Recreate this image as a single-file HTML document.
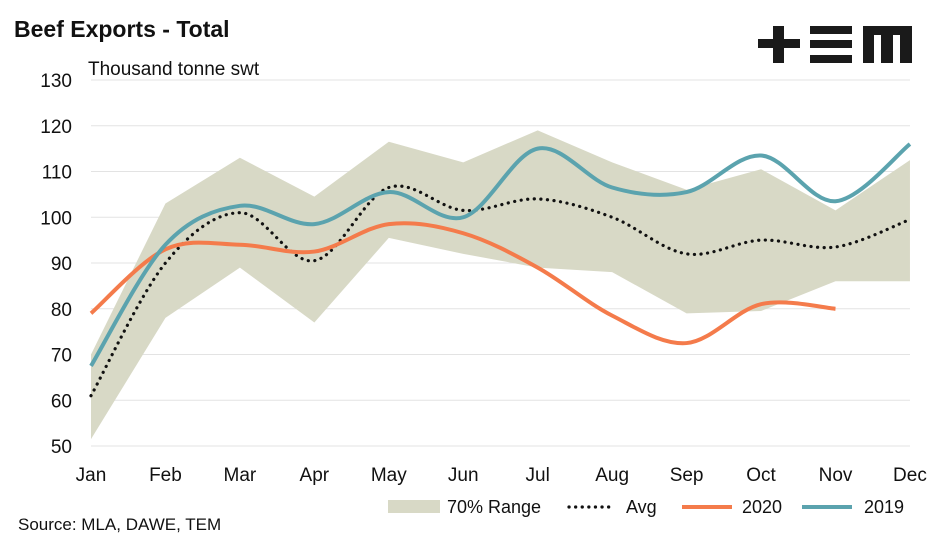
<!DOCTYPE html>
<html><head><meta charset="utf-8"><style>
body{margin:0;background:#fff;}
svg{display:block;font-family:"Liberation Sans",sans-serif;}
</style></head><body>
<svg id="s" width="945" height="539" xmlns="http://www.w3.org/2000/svg">
<text x="14" y="37" font-size="23" font-weight="bold" fill="#111">Beef Exports - Total</text>
<text x="88" y="75" font-size="19" fill="#111">Thousand tonne swt</text>
<g fill="#1a1a1a">
<rect x="758" y="39" width="42" height="9"/><rect x="773" y="26" width="11" height="37"/>
<rect x="810" y="26" width="42" height="8"/><rect x="810" y="40" width="42" height="8"/><rect x="810" y="55" width="42" height="8"/>
<rect x="863" y="26" width="49" height="9"/><rect x="863" y="26" width="11" height="37"/><rect x="881" y="26" width="12" height="37"/><rect x="900" y="26" width="12" height="37"/>
</g>
<g id="grid" stroke="#e3e3e3" stroke-width="1"></g>
<g id="yl" font-size="19" fill="#111" text-anchor="end"></g>
<g id="xl" font-size="19" fill="#111" text-anchor="middle"></g>
<path id="band" fill="#d8d9c6"/>
<path id="avg" fill="none" stroke="#111" stroke-width="3.2" stroke-dasharray="0.1 6.5" stroke-linecap="round"/>
<path id="l20" fill="none" stroke="#f47b4b" stroke-width="4"/>
<path id="l19" fill="none" stroke="#5ba3ae" stroke-width="4"/>
<rect x="388" y="500" width="52" height="13" fill="#d8d9c6"/>
<text x="447" y="513" font-size="18" fill="#111">70% Range</text>
<line x1="569" y1="507" x2="612" y2="507" stroke="#111" stroke-width="3.2" stroke-dasharray="0.1 6.5" stroke-linecap="round"/>
<text x="626" y="513" font-size="18" fill="#111">Avg</text>
<line x1="682" y1="507" x2="732" y2="507" stroke="#f47b4b" stroke-width="4"/>
<text x="742" y="513" font-size="18" fill="#111">2020</text>
<line x1="802" y1="507" x2="852" y2="507" stroke="#5ba3ae" stroke-width="4"/>
<text x="864" y="513" font-size="18" fill="#111">2019</text>
<text x="18" y="530" font-size="17" fill="#111">Source: MLA, DAWE, TEM</text>
</svg>
<script>
const X=i=>91+i*74.45, Y=v=>446-(v-50)*4.575;
const ns="http://www.w3.org/2000/svg";
function el(p,t,a,txt){const e=document.createElementNS(ns,t);for(const k in a)e.setAttribute(k,a[k]);if(txt)e.textContent=txt;document.getElementById(p).appendChild(e);}
for(let v=50;v<=130;v+=10){el("grid","line",{x1:91,x2:910,y1:Y(v),y2:Y(v)});el("yl","text",{x:72,y:Y(v)+7},String(v));}
"Jan Feb Mar Apr May Jun Jul Aug Sep Oct Nov Dec".split(" ").forEach((m,i)=>el("xl","text",{x:X(i),y:481},m));
function pts(a){return a.map((v,i)=>[X(i),Y(v)]);}
function smooth(p,move=true){let d=move?`M${p[0][0]},${p[0][1]}`:`L${p[0][0]},${p[0][1]}`;
for(let i=0;i<p.length-1;i++){const p0=p[i-1]||p[i],p1=p[i],p2=p[i+1],p3=p[i+2]||p2;
d+=`C${p1[0]+(p2[0]-p0[0])/6},${p1[1]+(p2[1]-p0[1])/6} ${p2[0]-(p3[0]-p1[0])/6},${p2[1]-(p3[1]-p1[1])/6} ${p2[0]},${p2[1]}`;}return d;}
function lin(p,move=true){return p.map((q,i)=>(i||!move?"L":"M")+q[0]+","+q[1]).join("");}
const up=[70,103,113,104.5,116.5,112,119,112,106,110.5,101.5,112.5];
const lo=[51.5,78,89,77,95.5,92,89,88,79,79.5,86,86];
document.getElementById("band").setAttribute("d",lin(pts(up))+lin(pts(lo).reverse(),false)+"Z");
document.getElementById("avg").setAttribute("d",smooth(pts([61,90,101,90.5,106.5,101.5,104,100,92,95,93.5,99.5])));
document.getElementById("l20").setAttribute("d",smooth(pts([79,93,94,92.5,98.5,96.5,89,78.5,72.5,81,80])));
document.getElementById("l19").setAttribute("d",smooth(pts([67.5,94,102.5,98.5,105.5,100,115,106.5,105.5,113.5,103.5,116])));
</script>
</body></html>
